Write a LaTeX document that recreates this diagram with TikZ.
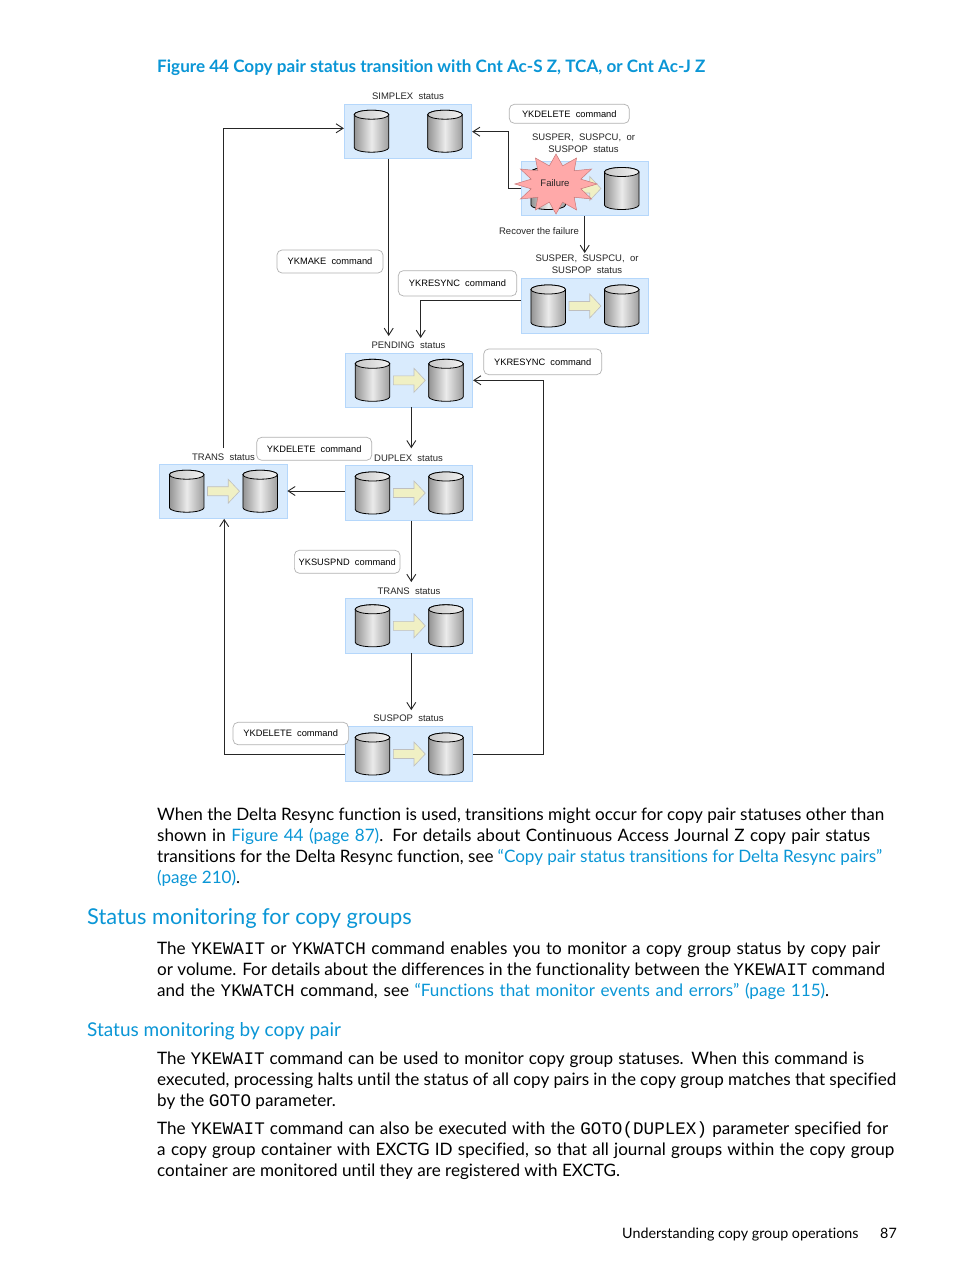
\documentclass[tikz,border=0pt]{standalone}
\usepackage{fontspec}
\setmainfont[Ligatures=NoCommon]{Lato}
\setmonofont[Scale=1.03]{Liberation Mono}
\newfontfamily\figfont{Liberation Sans}
\usetikzlibrary{arrows.meta,shapes.geometric}
\definecolor{hplink}{HTML}{0A96D6}
\definecolor{boxfill}{HTML}{D9EBFD}
\definecolor{boxline}{HTML}{B5D7FB}
\definecolor{copyfill}{HTML}{F0F0C4}
\definecolor{burstfill}{HTML}{FFA9A9}
\definecolor{burstline}{HTML}{C87878}
\newcommand{\fitline}[2]{\makebox[#1pt][s]{#2}}
\begin{document}
\begin{tikzpicture}[x=1pt,y=-1pt]
    \tikzstyle{statbox}=[draw=boxline, fill=boxfill, inner sep=0pt, line width=0.8pt]
    \tikzstyle{cmdbox}=[draw=black!30, fill=white, rounded corners=5pt, inner sep=0pt, line width=0.7pt, font=\figfont\fontsize{9.3}{11}\selectfont]
    \tikzstyle{statlabel}=[inner sep=0pt, align=center, text=black!85, font=\figfont\fontsize{9.5}{12}\selectfont]
    \tikzstyle{conn}=[line width=0.9pt, black!85, -{Straight Barb[length=7pt,width=9pt]}]
    \tikzstyle{bodytext}=[anchor=base west, inner sep=0pt, font=\fontsize{17.1}{20}\selectfont]
    \tikzstyle{headtext}=[anchor=base west, inner sep=0pt, text=hplink]
    \tikzset{
        diskcyl/.pic={
            \draw[line width=0.8pt, left color=black!42, right color=black!38, middle color=black!8]
                (-17.3,-16.5) -- (-17.3,16.5) arc[start angle=180, end angle=0, x radius=17.3, y radius=4.5]
                -- (17.3,-16.5) arc[start angle=0, end angle=-180, x radius=17.3, y radius=4.5] -- cycle;
            \draw[line width=0.8pt, left color=black!22, right color=black!5]
                (-17.3,-16.5) arc[start angle=180, end angle=0, x radius=17.3, y radius=4.5]
                arc[start angle=0, end angle=-180, x radius=17.3, y radius=4.5] -- cycle;
        },
        copyarrow/.pic={
            \draw[line width=0.6pt, draw=black!25, fill=copyfill]
                (-15.7,-4.5) -- (5,-4.5) -- (5,-12) -- (16.3,0) -- (5,12) -- (5,4.5) -- (-15.7,4.5) -- cycle;
        }
    }

    \path[fill=white] (0,0) rectangle (954,1271);
    \useasboundingbox (0,0) rectangle (954,1271);

    % title
    \node[headtext, font=\fontsize{17.1}{20}\selectfont\bfseries] (figtitle) at (157,72.7) {Figure 44 Copy pair status transition with Cnt Ac-S Z, TCA, or Cnt Ac-J Z};

    % status boxes
    \foreach \b/\cx/\cy in {simplex/408/131.2, failed/584.7/188.5, resync/584.7/306, pending/409/380.3, duplex/409/493, transl/223.2/491.2, transm/409/625.8, suspop/409/754} {
        \node[statbox, minimum width=127.5pt, minimum height=54.5pt] (\b) at (\cx,\cy) {};
    }

    % disks, with the copy arrow between them
    \foreach \b in {simplex, failed, resync, pending, duplex, transl, transm, suspop} {
        \pic at ([xshift=-36.5pt]\b.center) {diskcyl};
        \pic at ([xshift=37pt]\b.center) {diskcyl};
    }
    \foreach \b in {failed, resync, pending, duplex, transl, transm, suspop} {
        \pic at (\b.center) {copyarrow};
    }

    % connectors
    \coordinate (pendin) at (388.7,336);
    \coordinate (resyncin) at (420.7,338);
    \coordinate (topleft) at (223.3,128.3);
    \coordinate (transtop) at (223.3,448);
    \coordinate (failout) at (508,188);
    \draw[conn] (simplex.south -| pendin) -- (pendin);
    \draw[conn] (resync.west |- 0,300.7) -| (resyncin);
    \draw[conn] (failed.west |- failout) -- (failout) |- (simplex.east |- 0,131.7);
    \draw[conn] (failed.south) -- (resync.north |- 0,253);
    \draw[conn] (pending.south |- 0,407.3) ++(2.3,0) -- ++(0,41);
    \draw[conn] (duplex.west |- 0,491) -- (transl.east |- 0,491);
    \draw[conn] (duplex.south) ++(2.3,0) -- ++(0,61.4);
    \draw[conn] (transm.south) ++(2.3,0) -- ++(0,56.7);
    \draw[conn] (suspop.west) -| ([xshift=1pt]transl.south);
    \draw[conn] (suspop.east) -- ++(70.6,0) |- (pending.east);
    \draw[conn] (transtop) -- (topleft) -- (simplex.west |- topleft);

    % failure mark
    \node[star, star points=12, star point ratio=1.6, draw=burstline, fill=burstfill, minimum size=60pt, inner sep=0pt, xscale=1.37, line width=0.5pt] (burst) at (556,184) {};
    \node[statlabel] (burstlabel) at (555,183.5) {Failure};

    % command boxes
    \foreach \n/\x/\y/\w/\h/\t in {delone/569.3/113.8/120/19/YKDELETE\ \ command, mkone/330/261.5/106/23/YKMAKE\ \ command, rsone/457.5/283.3/118.4/25.3/YKRESYNC\ \ command, rstwo/542.7/361.8/118/25.7/YKRESYNC\ \ command, deltwo/314.2/448.8/115/23/YKDELETE\ \ command, spone/347.2/561.8/105.7/23/YKSUSPND\ \ command, delthree/290.7/733.5/115.3/22.4/YKDELETE\ \ command} {
        \node[cmdbox, minimum width=\w pt, minimum height=\h pt] (\n) at (\x,\y) {\t};
    }

    % status labels
    \node[statlabel] (lsimplex) at (408,96) {SIMPLEX\ \ status};
    \node[statlabel] (lfailed) at (583.5,143) {SUSPER,\ \ SUSPCU,\ \ or\\SUSPOP\ \ status};
    \node[statlabel] (lrecover) at (539,231) {Recover the failure};
    \node[statlabel] (lresync) at (587,264.3) {SUSPER,\ \ SUSPCU,\ \ or\\SUSPOP\ \ status};
    \node[statlabel] (lpending) at (408.5,345.5) {PENDING\ \ status};
    \node[statlabel] (ltransl) at (223.5,457.5) {TRANS\ \ status};
    \node[statlabel] (lduplex) at (408.5,458.5) {DUPLEX\ \ status};
    \node[statlabel] (ltransm) at (409,591.5) {TRANS\ \ status};
    \node[statlabel] (lsuspop) at (408.5,718.5) {SUSPOP\ \ status};

    % page text
    \node[bodytext] (pa) at (157,820) {\fitline{727}{When the Delta Resync function is used, transitions might occur for copy pair statuses other than}};
    \node[bodytext] (pb) at (157,841) {\fitline{713}{shown in \textcolor{hplink}{Figure 44 (page 87)}. For details about Continuous Access Journal Z copy pair status}};
    \node[bodytext] (pc) at (157,862) {\fitline{725}{transitions for the Delta Resync function, see \textcolor{hplink}{“Copy pair status transitions for Delta Resync pairs”}}};
    \node[bodytext, text=hplink] (pd) at (157,883) {(page 210)\textcolor{black}{.}};
    \node[headtext, font=\fontsize{21.8}{26}\selectfont] (heada) at (87,924) {Status monitoring for copy groups};
    \node[bodytext] (qa) at (157,954) {\fitline{723}{The \texttt{YKEWAIT} or \texttt{YKWATCH} command enables you to monitor a copy group status by copy pair}};
    \node[bodytext] (qb) at (157,975) {\fitline{728}{or volume. For details about the differences in the functionality between the \texttt{YKEWAIT} command}};
    \node[bodytext] (qc) at (157,996) {\fitline{672}{and the \texttt{YKWATCH} command, see \textcolor{hplink}{“Functions that monitor events and errors” (page 115)}.}};
    \node[headtext, font=\fontsize{19}{23}\selectfont] (headb) at (87,1036) {Status monitoring by copy pair};
    \node[bodytext] (ra) at (157,1064) {\fitline{707}{The \texttt{YKEWAIT} command can be used to monitor copy group statuses. When this command is}};
    \node[bodytext] (rb) at (157,1085) {\fitline{739}{executed, processing halts until the status of all copy pairs in the copy group matches that specified}};
    \node[bodytext] (rc) at (157,1106) {by the \texttt{GOTO} parameter.};
    \node[bodytext] (sa) at (157,1134) {\fitline{731}{The \texttt{YKEWAIT} command can also be executed with the \texttt{GOTO(DUPLEX)} parameter specified for}};
    \node[bodytext] (sb) at (157,1155) {\fitline{737}{a copy group container with EXCTG ID specified, so that all journal groups within the copy group}};
    \node[bodytext] (sc) at (157,1176) {container are monitored until they are registered with EXCTG.};
    \node[bodytext, font=\fontsize{14.3}{18}\selectfont] (foota) at (622,1238) {Understanding copy group operations};
    \node[bodytext, font=\fontsize{14.3}{18}\selectfont] (footb) at (880,1238) {87};
\end{tikzpicture}
\end{document}
